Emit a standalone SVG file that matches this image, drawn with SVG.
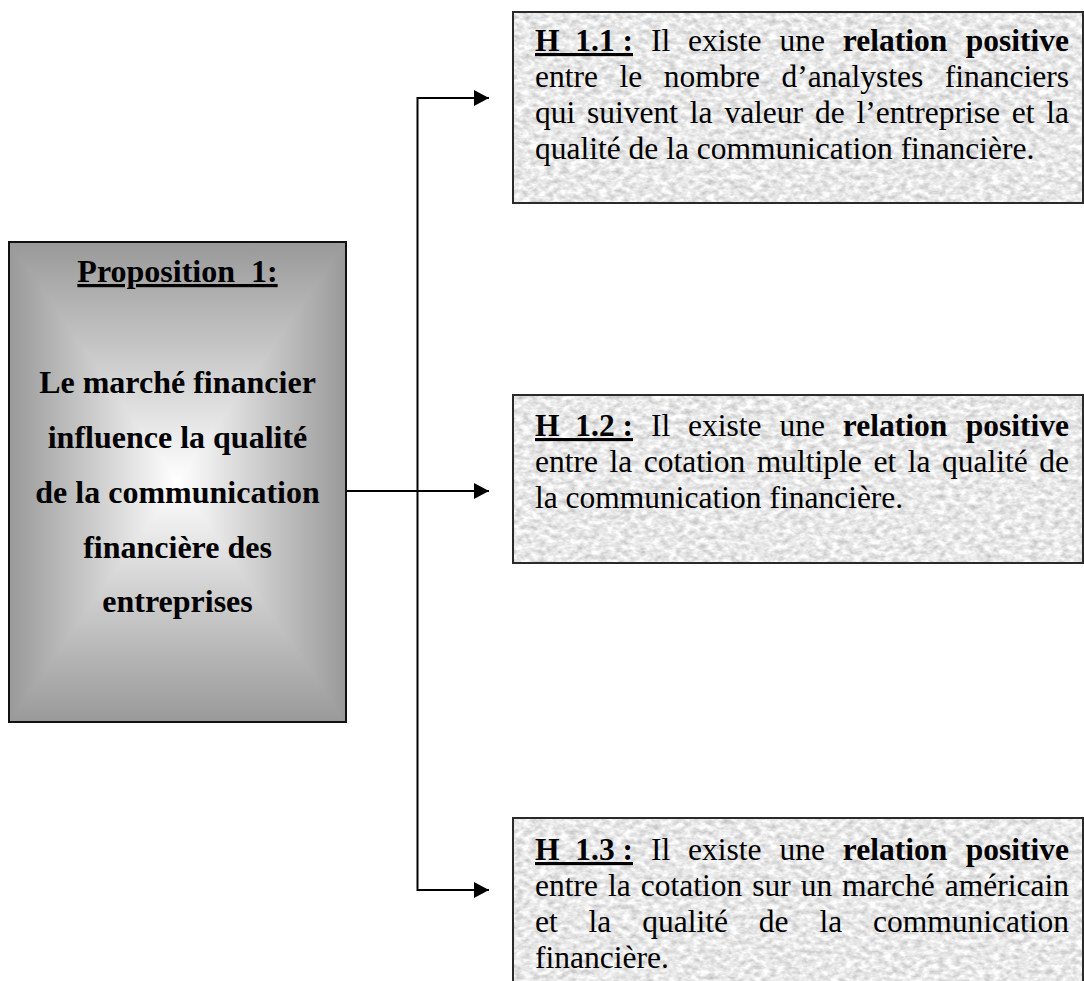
<svg xmlns="http://www.w3.org/2000/svg" width="1084" height="981" viewBox="0 0 1084 981">
<style>
  .t { font-family: "Liberation Serif", "Times New Roman", serif; font-size: 31.5px; fill: #000; }
  .lt { font-family: "Liberation Serif", "Times New Roman", serif; font-size: 32px; font-weight: bold; fill: #000; text-anchor: middle; }
  .b { font-weight: bold; }
  .u { text-decoration: underline; }
  .hbox { stroke: #2a2a2a; stroke-width: 2; fill: none; }
  .conn { stroke: #000; stroke-width: 2; fill: none; stroke-linejoin: miter; }
</style>
<defs>
  <linearGradient id="gTop" gradientUnits="userSpaceOnUse" x1="0" y1="242" x2="0" y2="482">
    <stop offset="0" stop-color="#999999"/>
    <stop offset="1" stop-color="#ffffff"/>
  </linearGradient>
  <linearGradient id="gBot" gradientUnits="userSpaceOnUse" x1="0" y1="722" x2="0" y2="482">
    <stop offset="0" stop-color="#999999"/>
    <stop offset="1" stop-color="#ffffff"/>
  </linearGradient>
  <linearGradient id="gLeft" gradientUnits="userSpaceOnUse" x1="9" y1="0" x2="177.5" y2="0">
    <stop offset="0" stop-color="#999999"/>
    <stop offset="1" stop-color="#ffffff"/>
  </linearGradient>
  <linearGradient id="gRight" gradientUnits="userSpaceOnUse" x1="346" y1="0" x2="177.5" y2="0">
    <stop offset="0" stop-color="#999999"/>
    <stop offset="1" stop-color="#ffffff"/>
  </linearGradient>
  <clipPath id="propClip">
    <rect x="9" y="242" width="337" height="480"/>
  </clipPath>
  <filter id="granite" x="0" y="0" width="1" height="1" color-interpolation-filters="sRGB">
    <feTurbulence type="fractalNoise" baseFrequency="0.13 0.2" numOctaves="3" seed="7" result="n"/>
    <feColorMatrix in="n" type="matrix" values="0.38 0 0 0 0.72  0.38 0 0 0 0.72  0.38 0 0 0 0.72  0 0 0 0 1"/>
  </filter>
  <marker id="arr" markerUnits="userSpaceOnUse" markerWidth="15" markerHeight="16" viewBox="0 0 15 16" refX="15" refY="8" orient="auto">
    <path d="M0,0 L15,8 L0,16 Z" fill="#000"/>
  </marker>
</defs>
<rect width="1084" height="981" fill="#ffffff"/>

<g id="connectors">
  <path class="conn" d="M346,491 H489" marker-end="url(#arr)"/>
  <path class="conn" d="M417.5,491 V98 H489" marker-end="url(#arr)"/>
  <path class="conn" d="M417.5,491 V890 H489" marker-end="url(#arr)"/>
</g>

<g id="proposition1">
  <g clip-path="url(#propClip)">
    <rect x="9" y="242" width="337" height="480" fill="#cccccc"/>
    <polygon points="5,234 5,730 182,482" fill="url(#gLeft)"/>
    <polygon points="350,234 350,730 173,482" fill="url(#gRight)"/>
    <polygon points="9,242 346,242 177.5,482" fill="url(#gTop)"/>
    <polygon points="9,722 346,722 177.5,482" fill="url(#gBot)"/>
  </g>
  <rect x="9" y="242" width="337" height="480" fill="none" stroke="#111" stroke-width="2"/>
  <text class="lt" x="177.5" y="282"><tspan class="u">Proposition&#160; 1:</tspan></text>
  <text class="lt" x="177.5" y="393">Le marché financier</text>
  <text class="lt" x="177.5" y="448">influence la qualité</text>
  <text class="lt" x="177.5" y="503">de la communication</text>
  <text class="lt" x="177.5" y="558">financière des</text>
  <text class="lt" x="177.5" y="612">entreprises</text>
</g>

<g id="h11">
  <rect x="513" y="12" width="570" height="191" fill="#e6e6e6" filter="url(#granite)"/>
  <rect class="hbox" x="513" y="12" width="570" height="191"/>
  <text class="t" y="51"><tspan x="535" class="b u">H&#160; 1.1 :</tspan><tspan x="650.9">Il</tspan><tspan x="688.05">existe</tspan><tspan x="779.44">une</tspan><tspan x="842.83" class="b">relation</tspan><tspan x="1069" class="b" text-anchor="end">positive</tspan></text>
  <text class="t" y="87"><tspan x="535">entre</tspan><tspan x="619.51">le</tspan><tspan x="663.79">nombre</tspan><tspan x="781.56">d’analystes</tspan><tspan x="1069" text-anchor="end">financiers</tspan></text>
  <text class="t" y="123"><tspan x="535">qui</tspan><tspan x="587.06">suivent</tspan><tspan x="689.86">la</tspan><tspan x="724.4">valeur</tspan><tspan x="814.92">de</tspan><tspan x="856.46">l’entreprise</tspan><tspan x="1011.71">et</tspan><tspan x="1069" text-anchor="end">la</tspan></text>
  <text class="t" x="535" y="159">qualité de la communication financière.</text>
</g>

<g id="h12">
  <rect x="513" y="395" width="570" height="168" fill="#e6e6e6" filter="url(#granite)"/>
  <rect class="hbox" x="513" y="395" width="570" height="168"/>
  <text class="t" y="436"><tspan x="535" class="b u">H&#160; 1.2 :</tspan><tspan x="650.9">Il</tspan><tspan x="688.05">existe</tspan><tspan x="779.44">une</tspan><tspan x="842.83" class="b">relation</tspan><tspan x="1069" class="b" text-anchor="end">positive</tspan></text>
  <text class="t" y="472"><tspan x="535">entre</tspan><tspan x="609.52">la</tspan><tspan x="643.81">cotation</tspan><tspan x="756.85">multiple</tspan><tspan x="873.42">et</tspan><tspan x="907.71">la</tspan><tspan x="942">qualité</tspan><tspan x="1069" text-anchor="end">de</tspan></text>
  <text class="t" x="535" y="508">la communication financière.</text>
</g>

<g id="h13">
  <rect x="513" y="818" width="570" height="200" fill="#e6e6e6" filter="url(#granite)"/>
  <rect class="hbox" x="513" y="818" width="570" height="200"/>
  <text class="t" y="860"><tspan x="535" class="b u">H&#160; 1.3 :</tspan><tspan x="650.9">Il</tspan><tspan x="688.05">existe</tspan><tspan x="779.44">une</tspan><tspan x="842.83" class="b">relation</tspan><tspan x="1069" class="b" text-anchor="end">positive</tspan></text>
  <text class="t" y="896"><tspan x="535">entre</tspan><tspan x="607.96">la</tspan><tspan x="640.68">cotation</tspan><tspan x="752.16">sur</tspan><tspan x="800.63">un</tspan><tspan x="842.12">marché</tspan><tspan x="1069" text-anchor="end">américain</tspan></text>
  <text class="t" y="932"><tspan x="535">et</tspan><tspan x="588.6">la</tspan><tspan x="642.2">qualité</tspan><tspan x="758.8">de</tspan><tspan x="819.4">la</tspan><tspan x="1069" text-anchor="end">communication</tspan></text>
  <text class="t" x="535" y="968">financière.</text>
</g>
</svg>
